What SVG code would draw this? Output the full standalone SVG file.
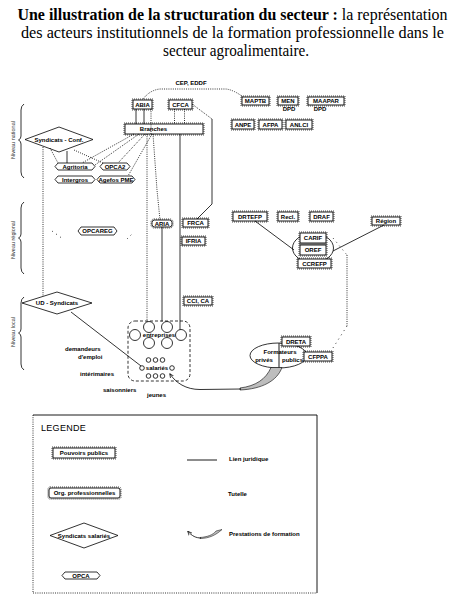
<svg xmlns="http://www.w3.org/2000/svg" width="465" height="616" viewBox="0 0 465 616">
<style>
.title{font-family:"Liberation Serif","Times New Roman",serif;font-size:16px;fill:#000}
.t{font-family:"Liberation Sans",Arial,sans-serif;font-size:6px;font-weight:bold;fill:#000;text-anchor:middle}
.s{font-family:"Liberation Sans",Arial,sans-serif;font-size:6px;font-weight:bold;fill:#000}
.lv{font-family:"Liberation Sans",Arial,sans-serif;font-size:5.5px;fill:#333;text-anchor:middle}
.box{fill:#fff;stroke:#000;stroke-width:0.9}
.sh{fill:none;stroke:#000;stroke-width:0.7;stroke-dasharray:1 1}
.shape{fill:#fff;stroke:#000;stroke-width:0.8}
.ln{fill:none;stroke:#000;stroke-width:0.8}
.dt{fill:none;stroke:#000;stroke-width:0.8;stroke-dasharray:1 1.2}
.sp{fill:none;stroke:#000;stroke-width:0.8;stroke-dasharray:1 4}
.circ{fill:#fff;stroke:#000;stroke-width:0.8}
</style>
<defs>
<marker id="ah" viewBox="0 0 10 10" refX="8" refY="5" markerWidth="6" markerHeight="6" orient="auto">
<path d="M0,1 L9,5 L0,9" fill="none" stroke="#000" stroke-width="1.4"/>
</marker>
</defs>

<g id="title">
<text class="title" x="232.5" y="20" text-anchor="middle" textLength="430" lengthAdjust="spacingAndGlyphs"><tspan font-weight="bold">Une illustration de la structuration du secteur :</tspan> la représentation</text>
<text class="title" x="232.5" y="38" text-anchor="middle" textLength="423" lengthAdjust="spacingAndGlyphs">des acteurs institutionnels de la formation professionnelle dans le</text>
<text class="title" x="236" y="56" text-anchor="middle" textLength="146" lengthAdjust="spacingAndGlyphs">secteur agroalimentaire.</text>
</g>

<g id="levels">
<path class="ln" d="M24,104 Q21,106 21,110 L21,136 Q21,139 18.5,140 Q21,141 21,144 L21,172 Q21,176 24,178"/>
<text class="lv" transform="translate(15,140) rotate(-90)">Niveau national</text>
<path class="ln" d="M24,202 Q21,204 21,208 L21,234 Q21,237 18.5,238 Q21,239 21,242 L21,268 Q21,272 24,274"/>
<text class="lv" transform="translate(15,240) rotate(-90)">Niveau régional</text>
<path class="ln" d="M24,297 Q21,299 21,303 L21,329 Q21,332 18.5,333 Q21,334 21,337 L21,364 Q21,368 24,370"/>
<text class="lv" transform="translate(15,332) rotate(-90)">Niveau local</text>
</g>

<g id="node-abia"><rect class="sh" x="132" y="99" width="21" height="11"/><rect class="box" x="133" y="100" width="19" height="9"/><text class="t" x="142.5" y="107">ABIA</text></g>
<g id="node-cfca"><rect class="sh" x="168" y="99" width="25" height="11"/><rect class="box" x="169" y="100" width="23" height="9"/><text class="t" x="180.5" y="107">CFCA</text></g>
<g id="node-maptb"><rect class="sh" x="241" y="96" width="29" height="10"/><rect class="box" x="242" y="97" width="27" height="8"/><text class="t" x="255.5" y="103.3">MAPTB</text></g>
<g id="node-men"><rect class="sh" x="277" y="96" width="22" height="10"/><rect class="box" x="278" y="97" width="20" height="8"/><text class="t" x="288" y="103.3">MEN</text><text class="s" x="289" y="110.5" text-anchor="middle" font-size="5">DPD</text></g>
<g id="node-maapar"><rect class="sh" x="307" y="96" width="38" height="10"/><rect class="box" x="308" y="97" width="36" height="8"/><text class="t" x="326" y="103.3">MAAPAR</text><text class="s" x="320" y="110.5" text-anchor="middle" font-size="5">DPD</text></g>
<g id="node-anpe"><rect class="sh" x="231" y="119" width="24" height="11"/><rect class="box" x="232" y="120" width="22" height="9"/><text class="t" x="243" y="127">ANPE</text></g>
<g id="node-afpa"><rect class="sh" x="258" y="119" width="25" height="11"/><rect class="box" x="259" y="120" width="23" height="9"/><text class="t" x="270.5" y="127">AFPA</text></g>
<g id="node-anlci"><rect class="sh" x="285" y="119" width="28" height="11"/><rect class="box" x="286" y="120" width="26" height="9"/><text class="t" x="299" y="127">ANLCI</text></g>
<g id="node-branches"><rect class="sh" x="124" y="123" width="80" height="12"/><rect class="box" x="125" y="124" width="78" height="10"/><text class="t" x="153.5" y="131.3" text-anchor="start">Branches</text></g>

<g id="node-syndicats-conf"><polygon class="shape" points="25,139.5 59,127 93,139.5 59,152"/><text class="t" x="59" y="141.8" font-size="5.8">Syndicats - Conf.</text></g>
<g id="node-agritoria"><polygon class="shape" points="55,166.5 58,163 92,163 95,166.5 92,170 58,170"/><text class="t" x="75" y="168.7" font-size="5.5">Agritoria</text></g>
<g id="node-opca2"><polygon class="shape" points="100,166.5 103,163 127,163 130,166.5 127,170 103,170"/><text class="t" x="115" y="168.7" font-size="5.5">OPCA2</text></g>
<g id="node-intergros"><polygon class="shape" points="55,179.5 58,176 92,176 95,179.5 92,183 58,183"/><text class="t" x="75" y="181.7" font-size="5.5">Intergros</text></g>
<g id="node-agefos"><polygon class="shape" points="97,179.5 100,176 132,176 135,179.5 132,183 100,183"/><text class="t" x="116" y="181.7" font-size="5.2">Agefos PME</text></g>

<g id="node-opcareg"><polygon class="shape" points="78,231 81,227 114,227 117,231 114,235 81,235"/><text class="t" x="97.5" y="233.2" font-size="5.5">OPCAREG</text></g>
<g id="node-aria"><rect class="sh" x="151" y="219" width="22" height="9" rx="3"/><rect class="box" x="152" y="220" width="20" height="7" rx="2.5"/><text class="t" x="162" y="225.8" font-size="5.5">ARIA</text></g>
<g id="node-frca"><rect class="sh" x="182" y="218" width="27" height="10"/><rect class="box" x="183" y="219" width="25" height="8"/><text class="t" x="195.5" y="225.3">FRCA</text></g>
<g id="node-ifria"><rect class="sh" x="181" y="236" width="25" height="10"/><rect class="box" x="182" y="237" width="23" height="8"/><text class="t" x="193.5" y="243.3">IFRIA</text></g>
<g id="node-cci"><rect class="sh" x="183" y="296" width="30" height="10"/><rect class="box" x="184" y="297" width="28" height="8"/><text class="t" x="198" y="303.3">CCI, CA</text></g>

<g id="node-drtefp"><rect class="sh" x="232" y="211" width="36" height="11"/><rect class="box" x="233" y="212" width="34" height="9"/><text class="t" x="250" y="219">DRTEFP</text></g>
<g id="node-recl"><rect class="sh" x="277" y="211" width="22" height="11"/><rect class="box" x="278" y="212" width="20" height="9"/><text class="t" x="288" y="219">Recl.</text></g>
<g id="node-draf"><rect class="sh" x="309" y="211" width="25" height="11"/><rect class="box" x="310" y="212" width="23" height="9"/><text class="t" x="321.5" y="219">DRAF</text></g>
<g id="node-region"><rect class="sh" x="371" y="216" width="30" height="10"/><rect class="box" x="372" y="217" width="28" height="8"/><text class="t" x="386" y="223.3">Région</text></g>

<g id="node-ellipse"><ellipse cx="313" cy="248" rx="20.5" ry="14.5" fill="none" stroke="#000" stroke-width="0.8"/></g>
<g id="node-carif"><rect class="sh" x="299" y="232" width="28" height="12"/><rect class="box" x="300" y="233" width="26" height="10"/><text class="t" x="313" y="240.4">CARIF</text></g>
<g id="node-oref"><rect class="sh" x="299" y="244" width="28" height="12"/><rect class="box" x="300" y="245" width="26" height="10"/><text class="t" x="313" y="252.4">OREF</text></g>
<g id="node-ccrefp"><rect class="sh" x="297" y="258" width="35" height="11"/><rect class="box" x="298" y="259" width="33" height="9"/><text class="t" x="314.5" y="266">CCREFP</text></g>

<g id="node-ud-syndicats"><polygon class="shape" points="22,303 57,292 92,303 57,314"/><text class="t" x="57" y="305.2" font-size="5.8">UD - Syndicats</text></g>

<g id="node-entreprises">
<rect x="128" y="321" width="62" height="60" rx="7" fill="none" stroke="#000" stroke-width="0.8" stroke-dasharray="3 2"/>
<circle class="circ" cx="149" cy="327" r="5.5"/><circle class="circ" cx="167" cy="327" r="5.5"/>
<circle class="circ" cx="135" cy="335" r="5.5"/><circle class="circ" cx="181" cy="335" r="5.5"/>
<circle class="circ" cx="149" cy="343" r="5.5"/><circle class="circ" cx="167" cy="343" r="5.5"/>
<text class="t" x="159" y="337.2" font-size="6">entreprises</text>
<circle class="circ" cx="148.5" cy="360" r="2.3"/><circle class="circ" cx="155.5" cy="360" r="2.3"/><circle class="circ" cx="162.5" cy="360" r="2.3"/>
<circle class="circ" cx="142" cy="368" r="2.3"/><circle class="circ" cx="172" cy="368" r="2.3"/>
<circle class="circ" cx="148.5" cy="376" r="2.3"/><circle class="circ" cx="155.5" cy="376" r="2.3"/><circle class="circ" cx="162.5" cy="376" r="2.3"/>
<text class="t" x="157" y="369.6" font-size="5.8">salariés</text>
</g>

<g id="people">
<text class="s" x="65" y="350.5">demandeurs</text>
<text class="s" x="78" y="359">d'emploi</text>
<text class="s" x="80" y="375.5">intérimaires</text>
<text class="s" x="103" y="391.5">saisonniers</text>
<text class="s" x="147" y="396.5">jeunes</text>
</g>

<g id="node-formateurs">
<ellipse cx="278.5" cy="355.5" rx="28.5" ry="12.5" fill="#fff" stroke="#000" stroke-width="0.8"/>
<line x1="279" y1="343" x2="279" y2="368" stroke="#000" stroke-width="0.9"/>
<text class="t" x="280" y="354.3" font-size="6">Formateurs</text>
<text class="t" x="264" y="362.3" font-size="6">privés</text>
<text class="t" x="292.5" y="362.3" font-size="6">publics</text>
</g>
<g id="node-dreta"><rect class="sh" x="281" y="336" width="30" height="11"/><rect class="box" x="282" y="337" width="28" height="9"/><text class="t" x="296" y="344">DRETA</text></g>
<g id="node-cfppa"><rect class="sh" x="303" y="351" width="30" height="11"/><rect class="box" x="304" y="352" width="28" height="9"/><text class="t" x="318" y="359">CFPPA</text></g>

<g id="connectors">
<path class="dt" d="M143,99 Q150,90 160,89 L226,89 Q234,90 243,97"/>
<text class="s" x="191" y="85" text-anchor="middle" font-size="5">CEP, EDDF</text>
<line class="ln" x1="136" y1="109" x2="136" y2="124"/>
<line class="ln" x1="144" y1="109" x2="144" y2="124"/>
<line class="dt" x1="151" y1="109" x2="151" y2="134"/>
<line class="dt" x1="174.5" y1="109" x2="174.5" y2="124"/>
<line class="dt" x1="184.5" y1="109" x2="184.5" y2="124"/>
<path class="dt" d="M192,104 L212,119"/>
<path class="ln" d="M212,119 L212,204 L197,219"/>
<line class="dt" x1="147" y1="134" x2="147" y2="321.5"/>
<path class="dt" d="M153,134 L157,190 L160,220"/>
<line class="ln" x1="162" y1="227" x2="162" y2="321.5"/>
<line class="ln" x1="180" y1="134" x2="180" y2="329.5"/>
<line class="dt" x1="134" y1="134" x2="82" y2="163"/>
<line class="dt" x1="139" y1="134" x2="95" y2="165"/>
<line class="dt" x1="145" y1="134" x2="118" y2="163"/>
<line class="dt" x1="152" y1="134" x2="128" y2="176"/>
<line class="dt" x1="50" y1="148" x2="58" y2="163"/>
<line class="ln" x1="67" y1="151" x2="67" y2="163"/>
<line class="dt" x1="74" y1="150" x2="103" y2="163"/>
<line class="dt" x1="43" y1="147" x2="43" y2="296.5"/>
<line class="sp" x1="52" y1="231" x2="63" y2="239"/>
<line class="sp" x1="127" y1="239" x2="134" y2="232"/>
<line class="ln" x1="255" y1="221" x2="294" y2="250"/>
<line class="ln" x1="384" y1="225" x2="333" y2="251"/>
<path class="sp" d="M333,238 L347,255"/>
<line class="dt" x1="347" y1="255" x2="347" y2="326"/>
<path class="sp" d="M347,326 L331,351"/>
<line class="ln" x1="71" y1="312" x2="141" y2="366"/>
<path d="M271,367.5 C266,379 256,386 240,388 L240,390 C262,389 277,381 282,367.5 Z" fill="#bdbdbd" stroke="#000" stroke-width="0.6"/>
<path class="ln" d="M241,389 L200,389.5 C186,389.5 176,383 170,374" marker-end="url(#ah)"/>
</g>

<g id="legend">
<line x1="33" y1="415" x2="317" y2="415" stroke="#000" stroke-width="0.9"/>
<line x1="317" y1="415" x2="317" y2="593" stroke="#000" stroke-width="0.9"/>
<line class="dt" x1="33" y1="415" x2="33" y2="593"/>
<line class="dt" x1="33" y1="593" x2="317" y2="593"/>
<text x="41" y="431" font-family="'Liberation Sans',Arial,sans-serif" font-size="9" letter-spacing="0.3">LEGENDE</text>
<g id="legend-pouvoirs"><rect class="sh" x="52" y="447" width="64" height="12"/><rect class="box" x="53" y="448" width="62" height="10"/><text class="t" x="84" y="455.2" font-size="5.8">Pouvoirs publics</text></g>
<g id="legend-org"><rect class="sh" x="48" y="487" width="73" height="12" rx="2"/><rect class="box" x="49" y="488" width="71" height="10" rx="2"/><text class="t" x="84.5" y="495.2" font-size="5.8">Org. professionnelles</text></g>
<g id="legend-syndicats"><polygon class="shape" points="50,535.5 84,523 118,535.5 84,548"/><text class="t" x="84" y="537.5" font-size="5.5">Syndicats salariés</text></g>
<g id="legend-opca"><polygon class="shape" points="62,575.5 65,572 97,572 100,575.5 97,579 65,579"/><text class="t" x="81" y="577.8" font-size="5.8">OPCA</text></g>
<line x1="187" y1="460" x2="217" y2="460" stroke="#000" stroke-width="0.9"/>
<text class="s" x="229" y="460.5" font-size="6.3">Lien juridique</text>
<text class="s" x="228" y="495.5" font-size="6.3">Tutelle</text>
<path d="M216,531 C213,535 207,537 200,537.5 L200,538.5 C209,538.5 216,535 222,529.5 Z" fill="#bdbdbd" stroke="#000" stroke-width="0.5"/>
<path class="ln" d="M201,538 C196,538 192,536 188,531.5" marker-end="url(#ah)"/>
<text class="s" x="229" y="535.5" font-size="6.3">Prestations de formation</text>
</g>
</svg>
